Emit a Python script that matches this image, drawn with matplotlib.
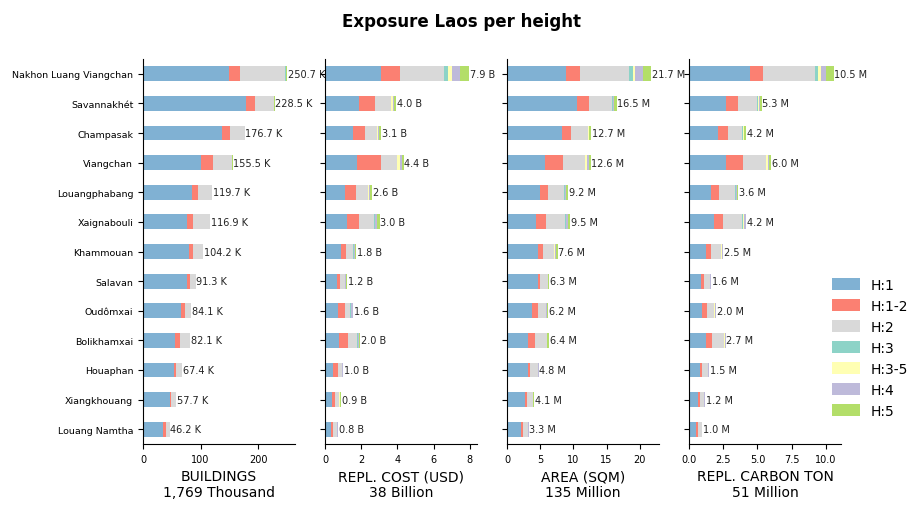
import matplotlib.pyplot as plt
import numpy as np

provinces = ["Nakhon Luang Viangchan", "Savannakhét", "Champasak", "Viangchan",
             "Louangphabang", "Xaignabouli", "Khammouan", "Salavan", "Oudômxai",
             "Bolikhamxai", "Houaphan", "Xiangkhouang", "Louang Namtha"]
heights = ["H:1", "H:1-2", "H:2", "H:3", "H:3-5", "H:4", "H:5"]
colors = ["#80b1d3", "#fb8072", "#d9d9d9", "#8dd3c7", "#ffffb3", "#bebada", "#b3de69"]

# rows: province, cols: heights  (thousand buildings)
buildings = [
    [149, 19.1, 78.9, 0.6, 0.6, 0.5, 2.0],
    [178.5, 15.5, 33, 0.3, 0.7, 0.2, 0.3],
    [137, 13.7, 26, 0, 0, 0, 0],
    [101, 20, 33, 0.2, 1.0, 0.1, 0.2],
    [84.6, 10.4, 24.7, 0, 0, 0, 0],
    [76.5, 9.9, 30.1, 0, 0, 0, 0.4],
    [80, 6.4, 17.8, 0, 0, 0, 0],
    [76.5, 4.5, 10.3, 0, 0, 0, 0],
    [65.5, 7.0, 11.0, 0.6, 0, 0, 0],
    [56, 7.8, 17.5, 0, 0, 0, 0.8],
    [53.3, 3.7, 10.4, 0, 0, 0, 0],
    [46.4, 1.6, 9.7, 0, 0, 0, 0],
    [35.4, 4.0, 6.8, 0, 0, 0, 0],
]
cost = [
    [3.09, 1.06, 2.43, 0.24, 0.2, 0.44, 0.5],
    [1.89, 0.89, 0.86, 0.03, 0.1, 0.05, 0.12],
    [1.53, 0.69, 0.63, 0.04, 0.03, 0.05, 0.13],
    [1.76, 1.34, 0.87, 0.03, 0.15, 0.08, 0.12],
    [1.12, 0.61, 0.62, 0.05, 0.02, 0.08, 0.1],
    [1.19, 0.7, 0.81, 0.05, 0.02, 0.1, 0.15],
    [0.86, 0.32, 0.38, 0.05, 0.02, 0.05, 0.05],
    [0.64, 0.21, 0.23, 0.02, 0.02, 0.02, 0.07],
    [0.74, 0.38, 0.26, 0.04, 0.02, 0.08, 0.05],
    [0.77, 0.52, 0.46, 0.05, 0.04, 0.04, 0.08],
    [0.44, 0.3, 0.22, 0, 0, 0.04, 0],
    [0.4, 0.17, 0.22, 0, 0.03, 0, 0.06],
    [0.35, 0.11, 0.18, 0, 0, 0.1, 0],
]
area = [
    [8.94, 2.11, 7.39, 0.61, 0.2, 1.25, 1.2],
    [10.6, 1.8, 3.35, 0.15, 0.1, 0.1, 0.4],
    [8.24, 1.46, 2.46, 0.1, 0.1, 0.05, 0.3],
    [5.78, 2.72, 3.2, 0.1, 0.2, 0.4, 0.2],
    [4.97, 1.26, 2.31, 0.15, 0.05, 0.1, 0.4],
    [4.37, 1.56, 2.77, 0.15, 0.1, 0.3, 0.25],
    [4.72, 0.76, 1.66, 0, 0.15, 0.1, 0.25],
    [4.62, 0.41, 1.1, 0, 0, 0.05, 0.15],
    [3.77, 0.95, 1.11, 0, 0.1, 0.07, 0.2],
    [3.22, 1.05, 1.71, 0, 0.1, 0, 0.3],
    [3.12, 0.4, 1.1, 0, 0, 0.15, 0],
    [2.76, 0.31, 0.9, 0, 0, 0, 0.1],
    [2.16, 0.3, 0.66, 0, 0, 0.15, 0],
]
carbon = [
    [4.43, 0.95, 3.79, 0.22, 0.22, 0.41, 0.54],
    [2.68, 0.87, 1.41, 0.05, 0.1, 0.05, 0.15],
    [2.12, 0.7, 1.05, 0.06, 0.05, 0.04, 0.15],
    [2.68, 1.24, 1.68, 0.02, 0.15, 0.08, 0.15],
    [1.58, 0.59, 1.16, 0.07, 0.03, 0.07, 0.1],
    [1.8, 0.66, 1.41, 0.07, 0.05, 0.2, 0],
    [1.24, 0.34, 0.78, 0, 0.07, 0.05, 0],
    [0.85, 0.22, 0.44, 0, 0, 0.08, 0],
    [0.95, 0.34, 0.53, 0, 0.05, 0.1, 0],
    [1.24, 0.41, 0.9, 0, 0.05, 0.07, 0],
    [0.78, 0.14, 0.44, 0, 0.05, 0.04, 0],
    [0.63, 0.15, 0.29, 0, 0.05, 0.05, 0],
    [0.51, 0.12, 0.29, 0, 0, 0, 0.06],
]

buildings_lbl = ["250.7 K", "228.5 K", "176.7 K", "155.5 K", "119.7 K", "116.9 K", "104.2 K",
                 "91.3 K", "84.1 K", "82.1 K", "67.4 K", "57.7 K", "46.2 K"]
cost_lbl = ["7.9 B", "4.0 B", "3.1 B", "4.4 B", "2.6 B", "3.0 B", "1.8 B",
            "1.2 B", "1.6 B", "2.0 B", "1.0 B", "0.9 B", "0.8 B"]
area_lbl = ["21.7 M", "16.5 M", "12.7 M", "12.6 M", "9.2 M", "9.5 M", "7.6 M",
            "6.3 M", "6.2 M", "6.4 M", "4.8 M", "4.1 M", "3.3 M"]
carbon_lbl = ["10.5 M", "5.3 M", "4.2 M", "6.0 M", "3.6 M", "4.2 M", "2.5 M",
              "1.6 M", "2.0 M", "2.7 M", "1.5 M", "1.2 M", "1.0 M"]

panels = [
    (buildings, buildings_lbl, "BUILDINGS\n1,769 Thousand", 264, [0, 100, 200]),
    (cost, cost_lbl, "REPL. COST (USD)\n38 Billion", 8.4, [0, 2, 4, 6, 8]),
    (area, area_lbl, "AREA (SQM)\n135 Million", 22.9, [0, 5, 10, 15, 20]),
    (carbon, carbon_lbl, "REPL. CARBON TON\n51 Million", 11.1, [0.0, 2.5, 5.0, 7.5, 10.0]),
]

fig = plt.figure(figsize=(9.23, 5.10), dpi=100)
fig.suptitle("Exposure Laos per height", fontsize=12, fontweight="bold", y=0.975)

lefts = [143, 325, 507, 689]
y = np.arange(len(provinces))
for i, (data, lbls, xlabel, xmax, ticks) in enumerate(panels):
    ax = fig.add_axes([lefts[i] / 923, 1 - 445 / 510, 152 / 923, 385 / 510])
    arr = np.array(data)
    left = np.zeros(len(provinces))
    for j in range(len(heights)):
        ax.barh(y, arr[:, j], left=left, height=0.5, color=colors[j],
                label=heights[j])
        left += arr[:, j]
    for k in range(len(provinces)):
        ax.text(left[k] + xmax * 0.005, y[k], lbls[k], va="center", fontsize=7, color="#222222")
    ax.set_ylim(len(provinces) - 0.5, -0.5)
    ax.set_xlim(0, xmax)
    ax.set_xticks(ticks)
    ax.tick_params(labelsize=7)
    ax.set_xlabel(xlabel, fontsize=10)
    ax.spines["top"].set_visible(False)
    ax.spines["right"].set_visible(False)
    ax.set_yticks(y)
    if i == 0:
        ax.set_yticklabels(provinces, fontsize=6.8)
    else:
        ax.set_yticklabels([])
    if i == 3:
        ax.legend(loc="center left", bbox_to_anchor=(0.86, 0.25), frameon=False,
                  fontsize=10, handlelength=2, handleheight=0.9)

fig.savefig("out.png", dpi=100)
